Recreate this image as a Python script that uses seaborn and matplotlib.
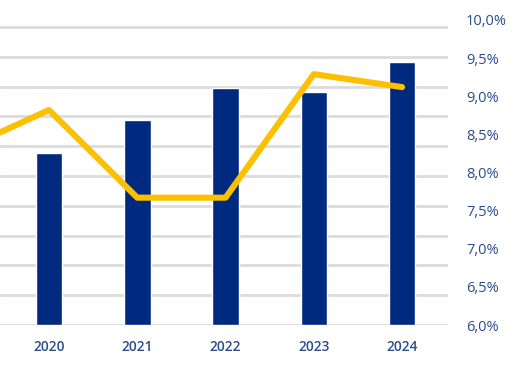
import matplotlib
matplotlib.use("Agg")
import matplotlib.pyplot as plt
import seaborn as sns
import numpy as np
import pandas as pd

years = ["2019", "2020", "2021", "2022", "2023", "2024"]
bar_values = [np.nan, 5.76, 6.87, 7.95, 7.81, 8.82]
line_values = [8.29, 8.82, 7.67, 7.67, 9.29, 9.12]
right_ticks = [6.0, 6.5, 7.0, 7.5, 8.0, 8.5, 9.0, 9.5, 10.0]
right_labels = ["6,0%", "6,5%", "7,0%", "7,5%", "8,0%", "8,5%", "9,0%", "9,5%", "10,0%"]

df = pd.DataFrame({"year": years, "bar": bar_values, "rate": line_values})

sns.set_theme(style="white")
plt.rcParams['font.family'] = ['Open Sans', 'DejaVu Sans']

NAVY = "#002a80"
YELLOW = "#fcc000"
TEXT = "#2b4c8c"
GRID = "#dcdcdc"

fig = plt.figure(figsize=(5.16, 3.69), dpi=100)
ax = fig.add_axes([0.0, 0.1192, 0.8682, 0.8266])

sns.barplot(data=df, x="year", y="bar", color=NAVY, width=0.3, saturation=1,
            ax=ax, zorder=2)
ax.set_ylim(0, 10.235)
ax.set_yticks(range(0, 11))
ax.yaxis.grid(True, color=GRID, linewidth=2)
ax.set_axisbelow(True)
ax.tick_params(axis="y", left=False, labelleft=False, length=0)
ax.set_xlim(0.445, 5.52)
ax.set_xlabel("")
ax.set_ylabel("")
ax.tick_params(axis="x", bottom=False, length=0, pad=11, labelsize=9.8, labelcolor=TEXT)
for lbl in ax.get_xticklabels():
    lbl.set_fontweight("semibold")
for s in ax.spines.values():
    s.set_visible(False)

ax2 = ax.twinx()
sns.lineplot(data=df, x="year", y="rate", color=YELLOW, linewidth=4.4, ax=ax2,
             solid_capstyle="round", zorder=3)
ax2.set_ylim(6.0, 10.0)
ax2.set_yticks(right_ticks)
ax2.set_yticklabels(right_labels)
ax2.tick_params(axis="y", right=False, length=0, pad=13, labelsize=10.5, labelcolor=TEXT)
for lbl in ax2.get_yticklabels():
    lbl.set_fontweight("medium")
ax2.set_xlim(0.445, 5.52)
ax2.set_ylabel("")
ax2.set_xlabel("")
ax2.grid(False)
for s in ax2.spines.values():
    s.set_visible(False)

fig.savefig("out.png", dpi=100)
